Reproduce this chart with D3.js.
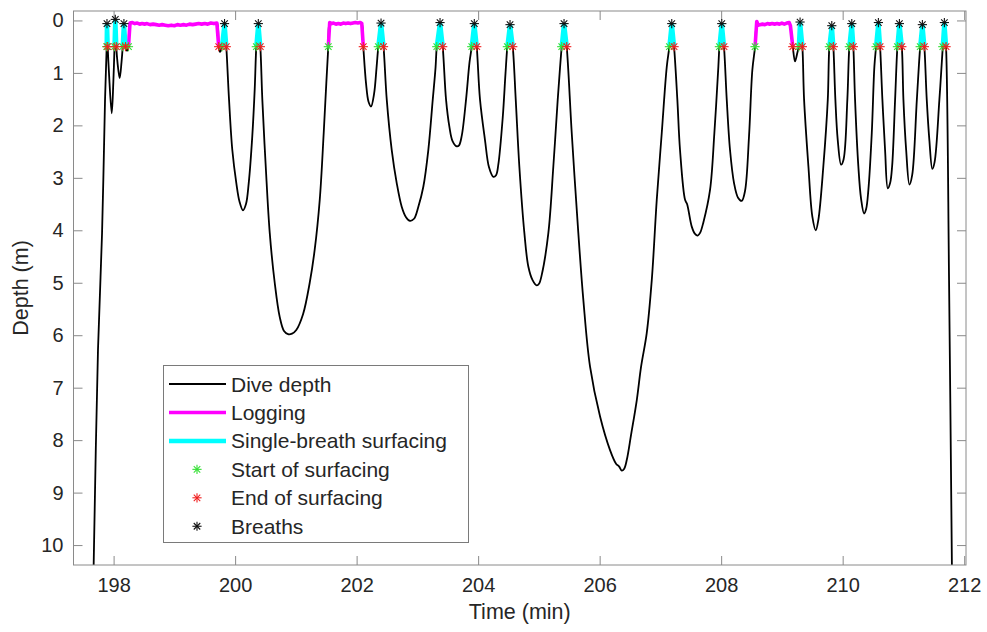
<!DOCTYPE html>
<html><head><meta charset="utf-8">
<script src="https://cdn.jsdelivr.net/npm/d3@7"></script>
<style>
body{margin:0;background:#fff}
svg{display:block}
text{font-family:"Liberation Sans",Arial,Helvetica,sans-serif;fill:#262626}
</style>
</head><body>
<svg id="c" width="987" height="632"></svg>
<script>
// ---------------- DATA ----------------
const xTicks = [198, 200, 202, 204, 206, 208, 210, 212];
const yTicks = [0, 1, 2, 3, 4, 5, 6, 7, 8, 9, 10];
const surfaceThreshold = 0.5;

// dive depth trace away from the surface (min, m)
const diveTime = [197.670,197.743,197.810,197.859,
  197.924,197.969,197.995,
  198.064,198.100,198.130,
  198.221,
  199.751,
  199.900,199.954,200.020,200.072,200.130,200.179,200.224,200.283,200.323,
  200.448,200.504,200.570,200.652,200.734,200.805,200.871,200.937,201.007,201.118,201.228,201.310,201.393,201.458,201.501,
  202.155,202.196,202.237,202.287,202.328,
  202.496,202.578,202.660,202.742,202.813,202.879,202.945,203.016,203.098,203.180,203.253,203.299,
  203.472,203.526,203.579,203.648,203.686,203.730,203.801,203.858,
  204.031,204.113,204.179,204.250,204.295,204.332,204.405,204.451,
  204.619,204.678,204.761,204.826,204.896,204.965,205.002,205.047,205.156,205.238,205.310,205.348,
  205.541,205.649,205.732,205.842,206.007,206.171,206.270,206.319,206.364,206.402,206.446,206.517,206.611,206.682,206.775,206.858,206.940,207.022,207.105,
  207.279,207.323,207.406,207.439,207.516,207.570,207.615,207.653,207.707,207.817,207.888,207.954,
  208.092,208.146,208.212,208.278,208.339,208.393,208.459,208.513,
  209.216,209.257,
  209.365,209.436,209.501,209.557,209.600,209.682,209.755,
  209.880,209.919,209.974,210.015,210.077,
  210.204,210.258,210.303,210.352,210.385,210.423,210.479,210.522,
  210.654,210.698,210.743,210.781,210.814,210.863,
  211.000,211.045,211.099,211.144,211.221,
  211.384,211.427,211.476,211.513,211.592,
  211.751,211.799];
const diveDepth = [10.5,6.28,4.05,1.51,
  1.0,1.77,1.2,
  0.8,1.1,0.8,
  0.58,
  0.6,
  1.51,2.47,3.1,3.45,3.62,3.5,3.1,2.2,1.3,
  1.51,2.78,4.05,5.0,5.65,5.92,5.98,5.97,5.9,5.6,5.0,4.37,3.42,2.15,1.2,
  1.2,1.55,1.64,1.4,0.9,
  1.51,2.47,3.1,3.55,3.75,3.82,3.78,3.55,3.17,2.47,1.51,0.9,
  1.51,2.02,2.3,2.4,2.38,2.2,1.51,0.8,
  1.51,2.28,2.8,2.98,2.95,2.75,1.85,1.0,
  1.51,2.78,4.05,4.69,4.95,5.05,5.02,4.85,4.05,2.78,1.51,0.9,
  2.15,4.05,5.33,6.6,7.55,8.19,8.45,8.5,8.58,8.55,8.38,7.9,7.24,6.6,5.96,4.95,3.42,2.15,0.88,
  1.51,2.47,3.42,3.5,3.93,4.07,4.1,4.05,3.85,3.23,2.15,0.88,
  1.51,2.47,3.1,3.38,3.44,3.25,2.2,0.95,
  0.78,0.6,
  1.51,2.78,3.74,4.0,3.8,2.78,1.51,
  1.51,2.28,2.75,2.65,1.51,
  1.51,2.78,3.4,3.68,3.6,3.23,2.15,0.88,
  1.51,2.47,3.2,3.1,2.78,1.51,
  1.51,2.47,3.13,2.95,1.51,
  1.51,2.28,2.83,2.7,1.51,
  4.95,10.5];

// single-breath surfacings
const surfStart  = [197.886,198.015,198.150,199.784,200.349,202.357,203.319,203.895,204.481,205.376,207.148,207.971,209.279,209.781,210.110,210.550,210.901,211.276,211.648];
const breathTime = [197.891,198.028,198.170,199.826,200.382,202.402,203.373,203.937,204.525,205.414,207.187,208.010,209.299,209.821,210.150,210.588,210.934,211.312,211.674];
const breathDepth= [0.06,-0.02,0.06,0.06,0.06,0.05,0.04,0.06,0.08,0.06,0.06,0.06,0.03,0.10,0.06,0.04,0.06,0.08,0.04];
const surfEnd    = [197.903,198.044,198.196,199.855,200.415,202.443,203.417,203.977,204.570,205.458,207.225,208.047,209.337,209.847,210.176,210.616,210.974,211.345,211.702];

// logging periods
const logStart = [198.245, 201.534, 208.558];
const logEnd   = [199.730, 202.110, 209.179];
const logTime = [198.270,198.310,198.350,198.390,198.430,198.470,198.510,198.550,198.600,198.650,198.700,198.750,198.800,198.850,198.900,198.950,199.000,199.050,199.100,199.150,199.200,199.250,199.300,199.350,199.400,199.450,199.500,199.550,199.600,199.650,199.700,
  201.557,201.590,201.620,201.660,201.700,201.740,201.780,201.820,201.860,201.900,201.940,201.980,202.020,202.060,202.085,
  208.586,208.610,208.640,208.680,208.720,208.760,208.800,208.840,208.880,208.920,208.960,209.000,209.040,209.080,209.120,209.140];
const logDepth = [0.05,0.04,0.06,0.05,0.07,0.06,0.07,0.06,0.08,0.07,0.08,0.09,0.08,0.09,0.10,0.09,0.10,0.08,0.09,0.08,0.09,0.07,0.08,0.07,0.06,0.07,0.06,0.07,0.05,0.06,0.05,
  0.04,0.06,0.05,0.07,0.06,0.07,0.05,0.06,0.05,0.06,0.05,0.04,0.05,0.04,0.06,
  0.02,0.09,0.08,0.07,0.08,0.06,0.07,0.06,0.07,0.06,0.07,0.05,0.07,0.05,0.04,0.10];

const legendLabels = ["Dive depth","Logging","Single-breath surfacing","Start of surfacing","End of surfacing","Breaths"];

// ---------------- BUILD ----------------
const series = [];
diveTime.forEach((t,i)=>series.push({t, d: diveDepth[i]}));
surfStart.forEach((t,i)=>{
  series.push({t, d: surfaceThreshold});
  series.push({t: breathTime[i], d: breathDepth[i]});
  series.push({t: surfEnd[i], d: surfaceThreshold});
});
logStart.forEach((t,i)=>{
  series.push({t, d: surfaceThreshold});
  series.push({t: logEnd[i], d: surfaceThreshold});
});
logTime.forEach((t,i)=>series.push({t, d: logDepth[i]}));
series.sort((a,b)=>a.t-b.t);

const L = 73.5, R = 966, T = 11, B = 565;
const x = d3.scaleLinear().domain([197.34, 212.03]).range([L, R]);
const y = d3.scaleLinear().domain([-0.18, 10.38]).range([T, B]);

const svg = d3.select("#c");
svg.append("defs").append("clipPath").attr("id","clip")
  .append("rect").attr("x",L).attr("y",T).attr("width",R-L).attr("height",B-T);

const axisColor = "#8a8a8a";
const tick = 9;

// axes
const gB = svg.append("g").attr("transform",`translate(0,${B})`)
  .call(d3.axisBottom(x).tickValues(xTicks).tickSizeInner(-tick).tickSizeOuter(0).tickPadding(13).tickFormat(d3.format("d")));
const gT = svg.append("g").attr("transform",`translate(0,${T})`)
  .call(d3.axisTop(x).tickValues(xTicks).tickSizeInner(-tick).tickSizeOuter(0).tickFormat(""));
const gL = svg.append("g").attr("transform",`translate(${L},0)`)
  .call(d3.axisLeft(y).tickValues(yTicks).tickSizeInner(-tick).tickSizeOuter(0).tickPadding(10).tickFormat(d3.format("d")));
const gR = svg.append("g").attr("transform",`translate(${R},0)`)
  .call(d3.axisRight(y).tickValues(yTicks).tickSizeInner(-tick).tickSizeOuter(0).tickFormat(""));
[gB,gT,gL,gR].forEach(g=>{
  g.select(".domain").remove();
  g.selectAll(".tick line").attr("stroke",axisColor).attr("stroke-width",1);
  g.selectAll(".tick text").attr("font-size",20).attr("fill","#262626")
    .style("font-family",'"Liberation Sans",Arial,Helvetica,sans-serif');
});

// plot contents
const plot = svg.append("g").attr("clip-path","url(#clip)");
const lineGen = d3.line().x(p=>x(p.t)).y(p=>y(p.d)).curve(d3.curveCatmullRom.alpha(0.5));
const lineLin = d3.line().x(p=>x(p.t)).y(p=>y(p.d));

plot.append("path").datum(series).attr("d",lineGen)
  .attr("fill","none").attr("stroke","#000").attr("stroke-width",1.8).attr("stroke-linejoin","round");

// logging (magenta)
logStart.forEach((s,i)=>{
  const pts = series.filter(p=>p.t>=s && p.t<=logEnd[i]);
  plot.append("path").datum(pts).attr("d",lineLin)
    .attr("fill","none").attr("stroke","#ff00ff").attr("stroke-width",3.6).attr("stroke-linejoin","round");
});
// single-breath surfacings (cyan)
surfStart.forEach((s,i)=>{
  const pts = series.filter(p=>p.t>=s && p.t<=surfEnd[i]);
  plot.append("path").datum(pts).attr("d",lineLin)
    .attr("fill","none").attr("stroke","#00ffff").attr("stroke-width",4.5).attr("stroke-linejoin","miter");
});

// asterisk marker
function star(g, cx, cy, color){
  const r = 4.6, k = r*0.7071;
  const segs = [[-r,0,r,0],[0,-r,0,r],[-k,-k,k,k],[-k,k,k,-k]];
  segs.forEach(s=>g.append("line")
    .attr("x1",cx+s[0]).attr("y1",cy+s[1]).attr("x2",cx+s[2]).attr("y2",cy+s[3])
    .attr("stroke",color).attr("stroke-width",1.1));
}
const mk = svg.append("g");
const green = "#35e035", red = "#f02020", black = "#111";
surfStart.concat(logStart).forEach(t=>star(mk, x(t), y(surfaceThreshold), green));
surfEnd.concat(logEnd).forEach(t=>star(mk, x(t), y(surfaceThreshold), red));
breathTime.forEach((t,i)=>star(mk, x(t), y(breathDepth[i]), black));

// frame
svg.append("rect").attr("x",L).attr("y",T).attr("width",R-L).attr("height",B-T)
  .attr("fill","none").attr("stroke",axisColor).attr("stroke-width",1);

// axis labels
svg.append("text").attr("x",(L+R)/2).attr("y",619).attr("text-anchor","middle")
  .attr("font-size",21.5).text("Time (min)");
svg.append("text").attr("transform",`translate(27.5,${(T+B)/2}) rotate(-90)`)
  .attr("text-anchor","middle").attr("font-size",21.5).text("Depth (m)");

// legend
const lg = svg.append("g");
lg.append("rect").attr("x",163.5).attr("y",365.5).attr("width",305).attr("height",177)
  .attr("fill","#fff").attr("stroke","#7a7a7a").attr("stroke-width",1);
const rowY = i => 384 + i*28.45;
const sampleStyles = [
  {type:"line", color:"#000", w:1.8},
  {type:"line", color:"#ff00ff", w:3.6},
  {type:"line", color:"#00ffff", w:4.5},
  {type:"mark", color:green},
  {type:"mark", color:red},
  {type:"mark", color:black}
];
legendLabels.forEach((lab,i)=>{
  const st = sampleStyles[i], cy = rowY(i);
  if(st.type==="line"){
    lg.append("line").attr("x1",169).attr("x2",226).attr("y1",cy).attr("y2",cy)
      .attr("stroke",st.color).attr("stroke-width",st.w);
  } else {
    star(lg, 197, cy, st.color);
  }
  lg.append("text").attr("x",231).attr("y",cy).attr("dy","0.36em").attr("font-size",21).text(lab);
});
</script>
</body></html>
